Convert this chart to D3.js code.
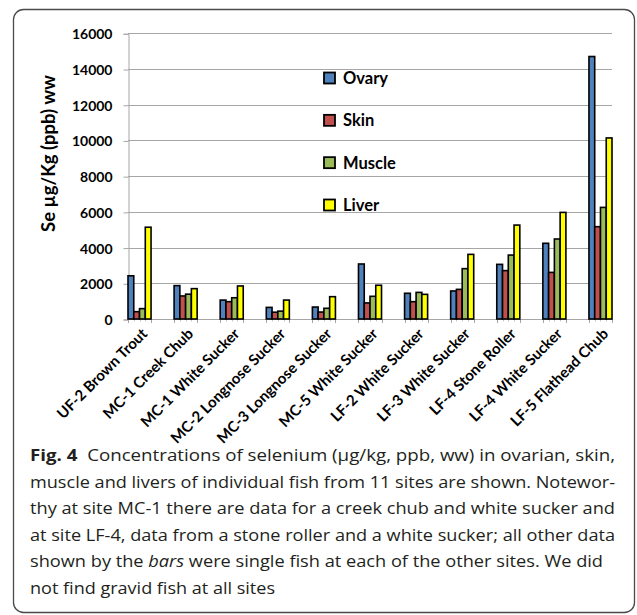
<!DOCTYPE html>
<html><head><meta charset="utf-8">
<script src="https://cdn.jsdelivr.net/npm/d3@7"></script>
<style>
html,body{margin:0;padding:0;background:#fff;}
svg{display:block;}
</style></head>
<body>
<svg id="chart" width="637" height="615"></svg>
<script>
const categories = ["UF-2 Brown Trout","MC-1 Creek Chub","MC-1 White Sucker","MC-2 Longnose Sucker","MC-3 Longnose Sucker","MC-5 White Sucker","LF-2 White Sucker","LF-3 White Sucker","LF-4 Stone Roller","LF-4 White Sucker","LF-5 Flathead Chub"];
const seriesNames = ["Ovary","Skin","Muscle","Liver"];
const ovary  = [2420,1870,1060,650,670,3080,1440,1570,3060,4240,14700];
const skin   = [410,1290,970,380,390,900,970,1660,2710,2610,5170];
const muscle = [580,1390,1190,440,600,1270,1490,2820,3580,4480,6250];
const liver  = [5140,1700,1850,1060,1250,1890,1380,3620,5260,5970,10140];
const yTicks = [0,2000,4000,6000,8000,10000,12000,14000,16000];
const colors = ["#4F81BD","#C0504D","#9BBB59","#FFFF00"];
const captionBold = "Fig. 4";
const captionLines = [
  "Concentrations of selenium (µg/kg, ppb, ww) in ovarian, skin,",
  "muscle and livers of individual fish from 11 sites are shown. Notewor-",
  "thy at site MC-1 there are data for a creek chub and white sucker and",
  "at site LF-4, data from a stone roller and a white sucker; all other data",
  ["shown by the ", "bars", " were single fish at each of the other sites. We did"],
  "not find gravid fish at all sites"
];

(function(){
const values = [ovary, skin, muscle, liver];
const svg = d3.select("#chart");
const chartFont = "Lato, 'Liberation Sans', sans-serif";

// card border
svg.append("rect").attr("x",13.5).attr("y",9.5).attr("width",621).attr("height",603)
  .attr("rx",10).attr("fill","none").attr("stroke","#4a4a4a").attr("stroke-width",1.3);

const pLeft = 128, pRight = 612, pTop = 33.3, pBottom = 319;
const y = d3.scaleLinear().domain([0,16000]).range([pBottom, pTop]);
const x0 = d3.scaleBand().domain(categories).range([pLeft, pRight]).paddingInner(0.5).paddingOuter(0);
const x1 = d3.scaleBand().domain(seriesNames).range([0, x0.bandwidth()]).padding(0);

// gridlines
svg.append("g").selectAll("line").data(yTicks).join("line")
  .attr("x1", pLeft).attr("x2", pRight)
  .attr("y1", d => Math.round(y(d))+0.5).attr("y2", d => Math.round(y(d))+0.5)
  .attr("stroke", "#a6a6a6").attr("stroke-width", 1);

// y axis
const yAxis = d3.axisLeft(y).tickValues(yTicks).tickSize(5).tickPadding(11).tickFormat(d3.format("d"));
const gy = svg.append("g").attr("transform", `translate(${pLeft+0.5},0.5)`).call(yAxis);
gy.select(".domain").attr("stroke","#a6a6a6");
gy.selectAll(".tick line").attr("stroke","#a6a6a6");
gy.selectAll(".tick text").attr("font-family", chartFont).attr("font-weight","bold")
  .attr("font-size", 14).attr("fill","#000").attr("dy","0.36em");

// bottom ticks at group edges and bar boundaries
const tickXs = [];
categories.forEach(c => {
  for (let i = 0; i <= seriesNames.length; i++) tickXs.push([x0(c) + i * x1.step(), (i===0||i===seriesNames.length)]);
});
svg.append("g").selectAll("line").data(tickXs).join("line")
  .attr("x1", d => Math.round(d[0])+0.5).attr("x2", d => Math.round(d[0])+0.5)
  .attr("y1", pBottom).attr("y2", d => d[1] ? pBottom+4 : pBottom+2.5)
  .attr("stroke", d => d[1] ? "#a6a6a6" : "#c8c8c8");

// bars
const groups = svg.append("g").selectAll("g").data(categories).join("g")
  .attr("transform", c => `translate(${x0(c)},0)`);
groups.selectAll("rect").data((c, ci) => seriesNames.map((s, si) => ({s, si, v: values[si][ci]})))
  .join("rect")
  .attr("x", d => x1(d.s)).attr("width", x1.bandwidth())
  .attr("y", d => y(d.v)).attr("height", d => y(0) - y(d.v))
  .attr("fill", d => colors[d.si]).attr("stroke", "#000").attr("stroke-width", 1.6);

// x labels
svg.append("g").selectAll("text").data(categories).join("text")
  .attr("transform", c => `translate(${x0(c) + x0.bandwidth()/2 + 5},${pBottom + 12}) rotate(-45)`)
  .attr("text-anchor","end").attr("dy","0.35em")
  .attr("font-family", chartFont).attr("font-weight","bold").attr("font-size", 15)
  .text(c => c);

// y title
svg.append("text").attr("transform","translate(55,153.5) rotate(-90)")
  .attr("text-anchor","middle").attr("font-family", chartFont).attr("font-weight","bold")
  .attr("font-size", 18.5).text("Se µg/Kg (ppb) ww");

// legend
const legY = d3.scalePoint().domain(seriesNames).range([78, 205]);
const leg = svg.append("g").selectAll("g").data(seriesNames).join("g")
  .attr("transform", s => `translate(324,${legY(s)})`);
leg.append("rect").attr("x",0).attr("y",-5.5).attr("width",11).attr("height",11)
  .attr("fill", (s,i) => colors[i]).attr("stroke","#000").attr("stroke-width",1.8);
leg.append("text").attr("x",19).attr("dy","0.36em").attr("font-family", chartFont)
  .attr("font-weight","bold").attr("font-size",16.5).text(s => s);

// caption
const capFont = "'Open Sans', 'Noto Sans', sans-serif";
const capX = 30, capY0 = 461, capStep = 26.6;
const lineWidths = [585, 585, 585, 585, 573, 245];
captionLines.forEach((ln, i) => {
  const t = svg.append("text").attr("x", capX).attr("y", capY0 + i*capStep)
    .attr("font-family", capFont).attr("font-size", 16).attr("fill","#231f20")
    .attr("textLength", lineWidths[i]).attr("lengthAdjust","spacingAndGlyphs");
  if (i === 0) {
    t.append("tspan").attr("font-weight","bold").text(captionBold);
    t.append("tspan").text("  " + ln);
    t.attr("xml:space","preserve");
  } else if (Array.isArray(ln)) {
    t.append("tspan").text(ln[0]);
    t.append("tspan").attr("font-style","italic").text(ln[1]);
    t.append("tspan").text(ln[2]);
    t.attr("xml:space","preserve");
  } else {
    t.text(ln);
  }
});
})();
</script>
</body></html>
